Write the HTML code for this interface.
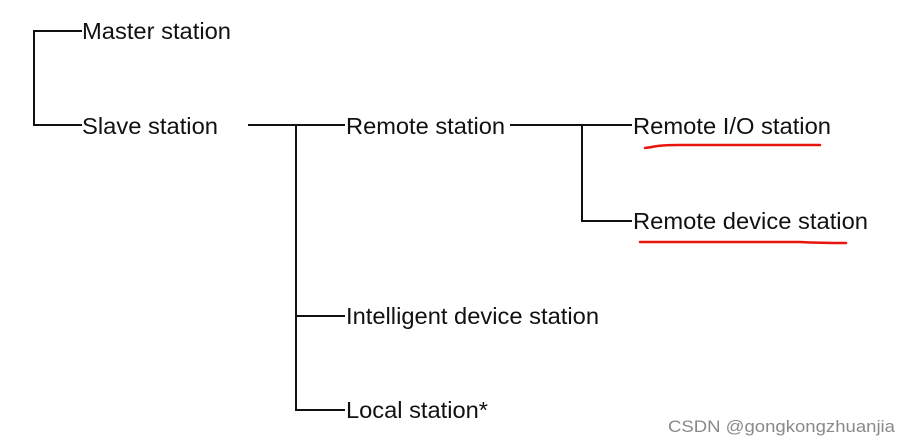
<!DOCTYPE html>
<html><head><meta charset="utf-8"><style>
html,body{margin:0;padding:0;background:#fff;}
svg{display:block;}
text{font-family:"Liberation Sans",Arial,sans-serif;font-size:23.5px;fill:#111;}
</style></head><body>
<svg width="910" height="445" viewBox="0 0 910 445" xmlns="http://www.w3.org/2000/svg">
<g stroke="#111" stroke-width="2" fill="none">
<polyline points="82,31 34,31 34,125 82,125"/>
<line x1="248" y1="125" x2="345" y2="125"/>
<polyline points="296,125 296,410 345,410"/>
<line x1="296" y1="316" x2="345" y2="316"/>
<line x1="510" y1="125" x2="632" y2="125"/>
<polyline points="582,125 582,221 632,221"/>
</g>
<g stroke="#e8150f" stroke-width="2.5" fill="none" stroke-linecap="round">
<path d="M645,148 L652,147 Q660,145 680,145 L820,145"/>
<path d="M640,242 L800,242 Q820,243 846,243"/>
</g>
<text x="82" y="39" textLength="149" lengthAdjust="spacingAndGlyphs">Master station</text>
<text x="82" y="134" textLength="136" lengthAdjust="spacingAndGlyphs">Slave station</text>
<text x="346" y="134" textLength="159" lengthAdjust="spacingAndGlyphs">Remote station</text>
<text x="633" y="134" textLength="198" lengthAdjust="spacingAndGlyphs">Remote I/O station</text>
<text x="633" y="229" textLength="235" lengthAdjust="spacingAndGlyphs">Remote device station</text>
<text x="346" y="324" textLength="253" lengthAdjust="spacingAndGlyphs">Intelligent device station</text>
<text x="346" y="418" textLength="142" lengthAdjust="spacingAndGlyphs">Local station*</text>
<text x="668" y="432" textLength="227" lengthAdjust="spacingAndGlyphs" style="font-size:17px;fill:#8a8a8a;">CSDN @gongkongzhuanjia</text>
</svg>
</body></html>
